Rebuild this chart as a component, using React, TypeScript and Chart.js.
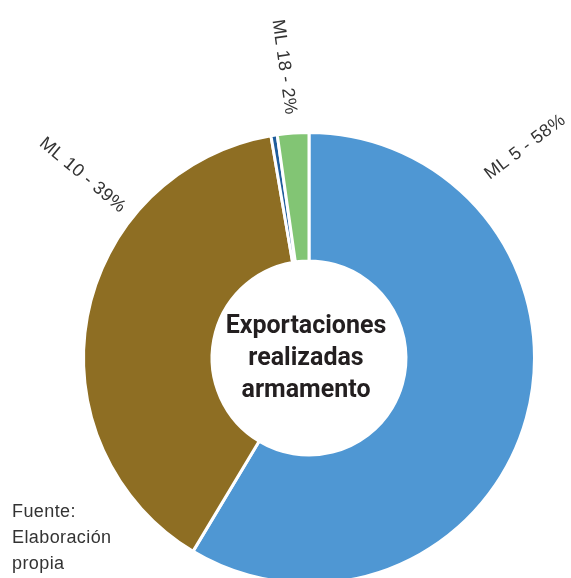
import React, { useEffect, useRef } from 'react';
import { Chart, registerables } from 'chart.js';

Chart.register(...registerables);

const categories = ['ML 5', 'ML 10', 'Otros', 'ML 18'];
const values = [58.6, 38.7, 0.45, 2.25];
const labelTexts = ['ML 5 - 58%', 'ML 10 - 39%', '', 'ML 18 - 2%'];
const colors = ['#4F97D3', '#8E6E23', '#1F5D9B', '#82C574'];
const centerLines = ['Exportaciones', 'realizadas', 'armamento'];
const sourceLines = ['Fuente:', 'Elaboración', 'propia'];

// label placement: angle from 12 o'clock (deg, clockwise), distance from centre (px), text rotation (deg)
const labelLayout = [
  { angle: 45.7, dist: 302, rot: -37 },
  { angle: -51.1, dist: 291, rot: 40 },
  null,
  { angle: -4.9, dist: 292, rot: 82 },
];

const LABEL_FONT = '18px "Liberation Sans", Arial, sans-serif';
const TEXT_COLOR = '#333333';

const overlayPlugin = {
  id: 'overlayText',
  afterDraw(chart: any) {
    const ctx = chart.ctx as CanvasRenderingContext2D;
    const meta = chart.getDatasetMeta(0);
    const arc = meta.data[0] as any;
    if (!arc) return;
    const cx = arc.x;
    const cy = arc.y;

    ctx.save();
    ctx.font = LABEL_FONT;
    (ctx as any).letterSpacing = '0.4px';
    ctx.fillStyle = TEXT_COLOR;
    ctx.textAlign = 'center';
    ctx.textBaseline = 'middle';
    labelLayout.forEach((l, i) => {
      if (!l || !labelTexts[i]) return;
      const a = (l.angle * Math.PI) / 180;
      const px = cx + l.dist * Math.sin(a);
      const py = cy - l.dist * Math.cos(a);
      ctx.save();
      ctx.translate(px, py);
      ctx.rotate((l.rot * Math.PI) / 180);
      ctx.fillText(labelTexts[i], 0, 0);
      ctx.restore();
    });
    ctx.restore();

    // centre title
    ctx.save();
    ctx.font = 'bold 25px Roboto, "Liberation Sans", sans-serif';
    ctx.fillStyle = '#231F20';
    ctx.textAlign = 'center';
    ctx.textBaseline = 'alphabetic';
    centerLines.forEach((t, i) => {
      ctx.fillText(t, cx - 3, cy + (i - 1) * 32 + 7);
    });
    ctx.restore();

    // source note
    ctx.save();
    ctx.font = LABEL_FONT;
    (ctx as any).letterSpacing = '0.4px';
    ctx.fillStyle = TEXT_COLOR;
    ctx.textAlign = 'left';
    ctx.textBaseline = 'alphabetic';
    sourceLines.forEach((t, i) => {
      ctx.fillText(t, 12, 517 + i * 26);
    });
    ctx.restore();
  },
};

export default function App() {
  const ref = useRef<HTMLCanvasElement | null>(null);

  useEffect(() => {
    if (!ref.current) return;
    const chart = new Chart(ref.current, {
      type: 'doughnut',
      data: {
        labels: categories,
        datasets: [
          {
            data: values,
            backgroundColor: colors,
            borderColor: '#ffffff',
            borderWidth: 3,
          },
        ],
      },
      options: {
        responsive: false,
        maintainAspectRatio: false,
        animation: false,
        devicePixelRatio: 1,
        cutout: '43%',
        layout: { padding: { left: 82, right: 35, top: 131, bottom: 15 } },
        plugins: {
          legend: { display: false },
          tooltip: { enabled: false },
        },
      },
      plugins: [overlayPlugin],
    });
    return () => chart.destroy();
  }, []);

  return (
    <div
      style={{
        position: 'fixed',
        left: 0,
        top: 0,
        width: 571,
        height: 578,
        overflow: 'hidden',
        background: '#ffffff',
      }}
    >
      <canvas ref={ref} width={571} height={600} style={{ width: 571, height: 600, display: 'block' }} />
    </div>
  );
}
